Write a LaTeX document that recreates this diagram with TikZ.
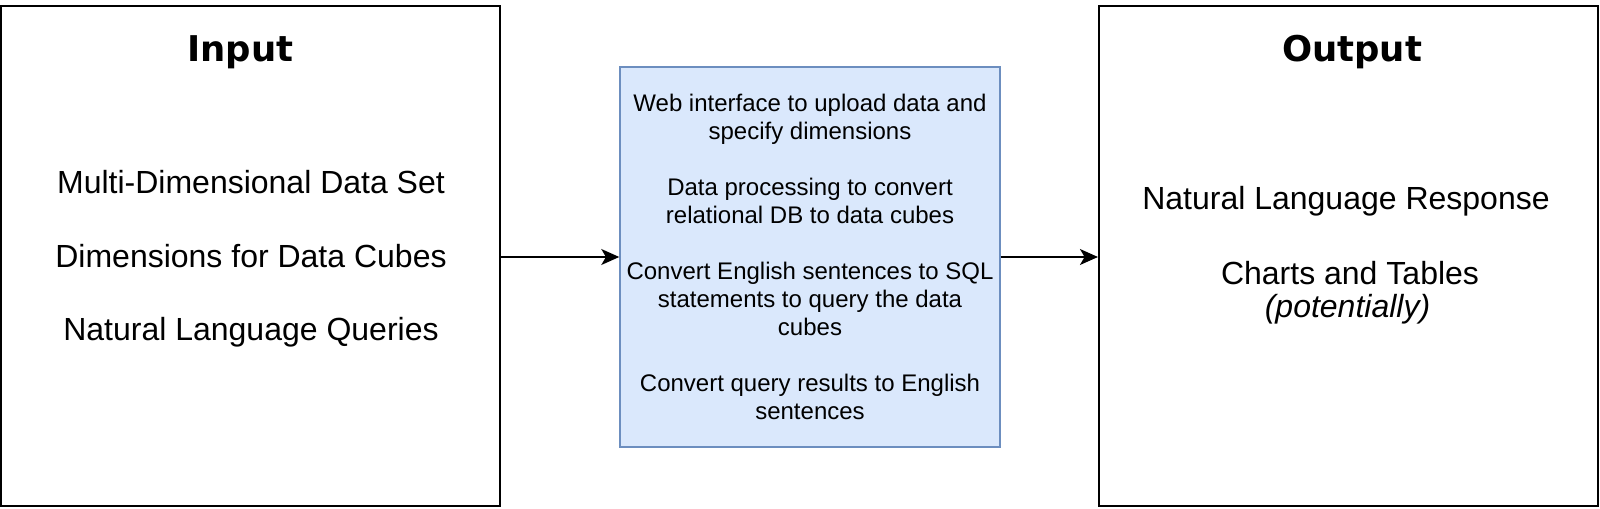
\documentclass[tikz,border=0pt]{standalone}
\usepackage{fontspec}
\setmainfont{Liberation Sans}
\newfontfamily\titlefont{DejaVu Sans}
\usetikzlibrary{arrows.meta}
\definecolor{midfill}{HTML}{DAE8FC}
\definecolor{middraw}{HTML}{6C8EBF}
\begin{document}
\begin{tikzpicture}[x=0.75pt,y=-0.75pt,
  frame/.style={draw=black, line width=1.6pt, minimum width=374.25pt, minimum height=375pt, inner sep=0pt},
  midbox/.style={draw=middraw, fill=midfill, line width=1.1pt, minimum width=285pt, minimum height=285pt, inner sep=0pt, align=center, font=\fontsize{18pt}{21pt}\selectfont},
  titletext/.style={anchor=base, font=\titlefont\bfseries\fontsize{26.6pt}{30pt}\selectfont},
  bodytext/.style={anchor=base, font=\fontsize{24pt}{28pt}\selectfont},
  arr/.style={draw=black, line width=1.1pt, -{Stealth[length=13.5pt, width=12pt, inset=3.5pt]}}]
\useasboundingbox (0,0) rectangle (1600,509);
% boxes
\node[frame] (inbox) at (250.5,256) {};
\node[frame] (outbox) at (1348.5,256) {};
\node[midbox] (mid) at (810,257) {Web interface to upload data and\\specify dimensions\\[21pt]Data processing to convert\\relational DB to data cubes\\[21pt]Convert English sentences to SQL\\statements to query the data\\cubes\\[21pt]Convert query results to English\\sentences};
% input texts
\node[titletext] (intitle) at (240.5,62) {Input};
\node[bodytext] (in1) at (251,193.5) {Multi-Dimensional Data Set};
\node[bodytext] (in2) at (251,267.5) {Dimensions for Data Cubes};
\node[bodytext] (in3) at (251,341) {Natural Language Queries};
% output texts
\node[titletext] (outtitle) at (1352,62) {Output};
\node[bodytext] (out1) at (1346,209.3) {Natural Language Response};
\node[bodytext] (out2) at (1350,285) {Charts and Tables};
\node[bodytext] (out3) at (1347.5,318) {\itshape (potentially)};
% connectors
\draw[arr] (mid.west -| inbox.east) -- (mid.west);
\draw[arr] (mid.east) -- (mid.east -| outbox.west);
\end{tikzpicture}
\end{document}
